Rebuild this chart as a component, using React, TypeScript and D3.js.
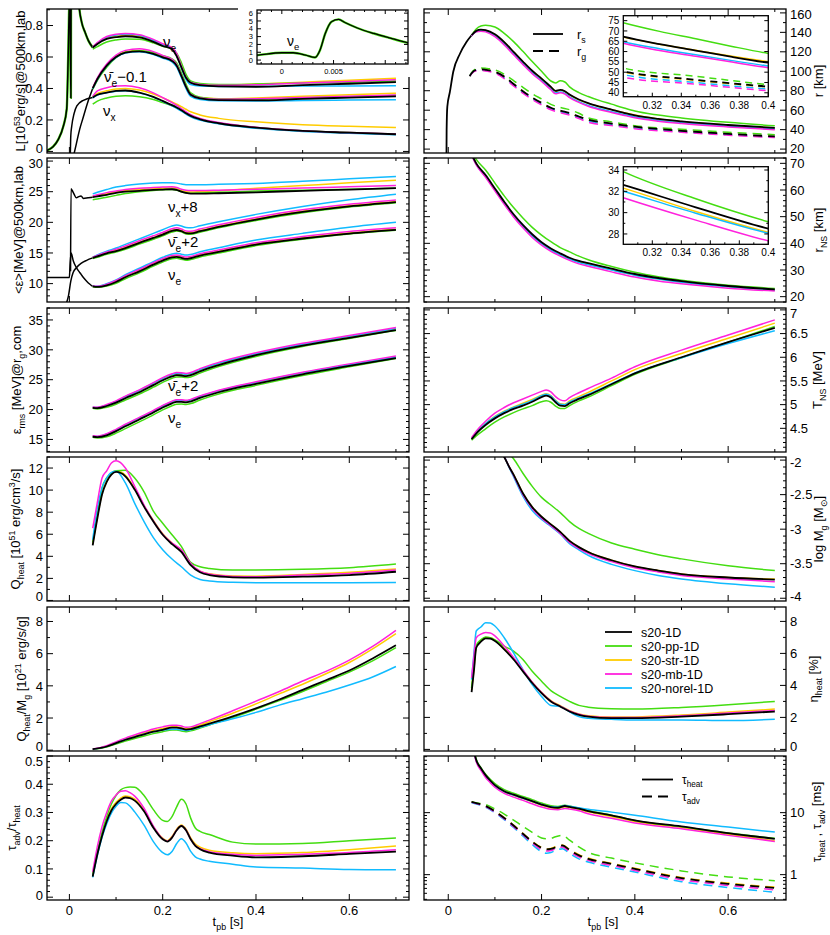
import React from 'react';
import * as d3 from 'd3';

const FONT = "'Liberation Sans', Arial, Helvetica, sans-serif";
const MODEL_NAMES = ['s20-1D', 's20-pp-1D', 's20-str-1D', 's20-mb-1D', 's20-norel-1D'];
const MODEL_COLORS = ['#000000', '#44dd11', '#ffcc00', '#ff22dd', '#11bbff'];
const DRAW_ORDER = [2, 1, 4, 3, 0];

// ---------- Row 1 left: luminosity [1e53 erg/s] at 500 km ----------
const tLum = [0.05, 0.06, 0.08, 0.10, 0.12, 0.15, 0.18, 0.20, 0.22, 0.23, 0.24, 0.25, 0.26, 0.28, 0.32, 0.40, 0.50, 0.60, 0.70];
// order: 1D, pp, str, mb, norel
const lumNue = [
  [0.660, 0.683, 0.715, 0.726, 0.732, 0.724, 0.696, 0.670, 0.650, 0.605, 0.535, 0.468, 0.436, 0.421, 0.413, 0.411, 0.421, 0.430, 0.440],
  [0.650, 0.666, 0.695, 0.708, 0.714, 0.712, 0.690, 0.668, 0.652, 0.625, 0.565, 0.490, 0.448, 0.432, 0.425, 0.428, 0.435, 0.440, 0.447],
  [0.662, 0.688, 0.722, 0.734, 0.740, 0.732, 0.703, 0.676, 0.654, 0.618, 0.540, 0.470, 0.437, 0.425, 0.420, 0.428, 0.440, 0.452, 0.465],
  [0.665, 0.692, 0.730, 0.744, 0.750, 0.742, 0.712, 0.684, 0.660, 0.622, 0.543, 0.470, 0.438, 0.426, 0.420, 0.424, 0.435, 0.445, 0.455],
  [0.662, 0.688, 0.726, 0.740, 0.746, 0.738, 0.706, 0.678, 0.654, 0.612, 0.530, 0.458, 0.425, 0.415, 0.412, 0.413, 0.415, 0.416, 0.417],
];
const lumNub = [
  [0.400, 0.460, 0.545, 0.600, 0.628, 0.636, 0.620, 0.598, 0.575, 0.545, 0.480, 0.410, 0.360, 0.337, 0.326, 0.324, 0.334, 0.342, 0.350],
  [0.395, 0.452, 0.535, 0.595, 0.630, 0.640, 0.628, 0.608, 0.588, 0.562, 0.500, 0.428, 0.372, 0.345, 0.333, 0.332, 0.340, 0.348, 0.356],
  [0.402, 0.463, 0.548, 0.605, 0.633, 0.642, 0.626, 0.604, 0.580, 0.548, 0.482, 0.410, 0.362, 0.342, 0.335, 0.340, 0.350, 0.360, 0.370],
  [0.405, 0.468, 0.555, 0.612, 0.642, 0.652, 0.634, 0.610, 0.585, 0.552, 0.484, 0.412, 0.362, 0.340, 0.332, 0.335, 0.343, 0.350, 0.358],
  [0.398, 0.458, 0.542, 0.598, 0.626, 0.634, 0.616, 0.593, 0.568, 0.536, 0.470, 0.400, 0.350, 0.330, 0.322, 0.321, 0.324, 0.326, 0.328],
];
const lumNux = [
  [0.343, 0.360, 0.374, 0.385, 0.387, 0.374, 0.347, 0.321, 0.294, 0.279, 0.262, 0.243, 0.226, 0.204, 0.179, 0.151, 0.130, 0.119, 0.109],
  [0.300, 0.320, 0.340, 0.350, 0.353, 0.348, 0.330, 0.310, 0.290, 0.277, 0.262, 0.245, 0.228, 0.206, 0.180, 0.152, 0.131, 0.120, 0.110],
  [0.345, 0.368, 0.385, 0.397, 0.400, 0.390, 0.365, 0.340, 0.315, 0.300, 0.285, 0.268, 0.252, 0.232, 0.210, 0.188, 0.170, 0.160, 0.152],
  [0.350, 0.385, 0.405, 0.415, 0.417, 0.404, 0.372, 0.342, 0.310, 0.292, 0.272, 0.252, 0.233, 0.210, 0.184, 0.154, 0.132, 0.120, 0.110],
  [0.340, 0.358, 0.372, 0.383, 0.385, 0.372, 0.345, 0.318, 0.290, 0.274, 0.256, 0.237, 0.220, 0.199, 0.175, 0.147, 0.127, 0.116, 0.106],
];
const tEarlyLumNue = [-0.0486, -0.035, -0.024, -0.013, -0.0057, -0.0023, 0, 0.0011, 0.0023, 0.0032, 0.0037, 0.0042, 0.0048, 0.0055, 0.0061, 0.0073, 0.0089, 0.0105, 0.0122, 0.016, 0.02, 0.0264, 0.0336, 0.0407, 0.05];
const earlyLumNue = [0.005, 0.03, 0.075, 0.16, 0.27, 0.64, 0.94, 0.94, 0.64, 0.34, 1.3, 3.4, 4.9, 5.2, 4.8, 4.1, 3.4, 2.8, 2.2, 1.4, 0.95, 0.82, 0.757, 0.704, 0.66];
const tEarlyLumNub = [0.0096, 0.015, 0.022, 0.03, 0.038, 0.045, 0.05];
const earlyLumNub = [-0.02, 0.05, 0.14, 0.22, 0.30, 0.36, 0.40];
const tEarlyLumNux = [0.002, 0.003, 0.005, 0.01, 0.016, 0.03, 0.05];
const earlyLumNux = [-0.02, 0.10, 0.16, 0.24, 0.29, 0.325, 0.343];

// ---------- Row 2 left: mean energies ----------
const tEn = tLum;
const enNux = [
  [24.1, 24.25, 24.5, 24.8, 25.0, 25.15, 25.3, 25.35, 25.4, 25.3, 25.0, 24.8, 24.7, 24.7, 24.75, 24.9, 25.15, 25.35, 25.6],
  [23.7, 23.8, 24.1, 24.4, 24.7, 25.0, 25.2, 25.3, 25.35, 25.25, 25.0, 24.8, 24.75, 24.8, 24.9, 25.1, 25.25, 25.4, 25.55],
  [24.2, 24.4, 24.7, 25.0, 25.2, 25.35, 25.5, 25.55, 25.6, 25.5, 25.2, 25.0, 24.95, 25.0, 25.15, 25.55, 26.0, 26.45, 26.85],
  [24.3, 24.5, 24.85, 25.1, 25.35, 25.55, 25.7, 25.75, 25.8, 25.7, 25.4, 25.25, 25.2, 25.2, 25.25, 25.4, 25.6, 25.8, 26.0],
  [24.65, 24.9, 25.35, 25.75, 26.0, 26.25, 26.4, 26.45, 26.45, 26.4, 26.25, 26.15, 26.15, 26.15, 26.2, 26.35, 26.7, 27.1, 27.5],
];
const enNub = [
  [14.2, 14.45, 14.95, 15.3, 15.8, 16.65, 17.45, 18.0, 18.6, 18.75, 18.55, 18.25, 18.2, 18.55, 19.25, 20.45, 21.7, 22.6, 23.3],
  [14.1, 14.3, 14.8, 15.15, 15.6, 16.45, 17.25, 17.8, 18.4, 18.6, 18.45, 18.1, 18.05, 18.4, 19.1, 20.3, 21.55, 22.5, 23.2],
  [14.25, 14.5, 15.0, 15.4, 15.9, 16.75, 17.55, 18.1, 18.7, 18.85, 18.65, 18.35, 18.3, 18.65, 19.35, 20.55, 21.8, 22.7, 23.4],
  [14.3, 14.6, 15.15, 15.6, 16.15, 17.0, 17.8, 18.35, 18.95, 19.1, 18.9, 18.6, 18.55, 18.9, 19.6, 20.8, 22.05, 22.95, 23.65],
  [14.3, 14.7, 15.3, 15.8, 16.4, 17.3, 18.2, 18.8, 19.4, 19.55, 19.4, 19.15, 19.1, 19.45, 20.1, 21.3, 22.6, 23.7, 24.6],
];
const enNue = [
  [9.56, 9.46, 9.73, 10.27, 11.04, 12.0, 13.1, 13.76, 14.3, 14.36, 14.2, 14.03, 14.14, 14.58, 15.18, 16.38, 17.36, 18.17, 18.77],
  [9.5, 9.4, 9.6, 10.05, 10.8, 11.75, 12.85, 13.5, 14.05, 14.12, 13.98, 13.82, 13.92, 14.35, 14.98, 16.2, 17.25, 18.1, 18.7],
  [9.58, 9.5, 9.8, 10.35, 11.12, 12.1, 13.2, 13.85, 14.4, 14.45, 14.3, 14.12, 14.22, 14.66, 15.26, 16.46, 17.45, 18.27, 18.87],
  [9.62, 9.56, 9.9, 10.5, 11.3, 12.3, 13.4, 14.05, 14.6, 14.66, 14.5, 14.33, 14.43, 14.87, 15.47, 16.67, 17.67, 18.5, 19.1],
  [9.62, 9.58, 9.98, 10.6, 11.45, 12.5, 13.6, 14.3, 14.85, 14.95, 14.8, 14.65, 14.75, 15.2, 15.85, 17.1, 18.2, 19.2, 20.0],
];
const tEarlyEnNue = [-0.048, 0, 0.0015, 0.0036, 0.0086, 0.015, 0.023, 0.03, 0.037, 0.044, 0.05];
const earlyEnNue = [11.0, 11.0, 13.2, 15.0, 13.65, 12.6, 11.74, 11.0, 10.4, 9.9, 9.56];
const tEarlyEnNub = [-0.006, -0.002, 0.003, 0.008, 0.015, 0.025, 0.037, 0.05];
const earlyEnNub = [6.9, 8.0, 10.4, 11.8, 12.6, 13.3, 13.8, 14.2];
const tEarlyEnNux = [0.0025, 0.0035, 0.006, 0.01, 0.015, 0.02, 0.025, 0.03, 0.04, 0.05];
const earlyEnNux = [12.0, 25.5, 25.2, 24.6, 24.0, 24.2, 24.3, 23.9, 24.0, 24.1];

// ---------- Row 3 left: rms energies ----------
const tRms = tLum;
const rmsNub = [
  [20.3, 20.25, 20.6, 21.15, 21.9, 22.9, 24.1, 24.9, 25.55, 25.75, 25.7, 25.6, 25.75, 26.4, 27.45, 29.1, 30.7, 32.0, 33.3],
  [20.2, 20.1, 20.4, 20.9, 21.6, 22.6, 23.75, 24.55, 25.25, 25.45, 25.45, 25.35, 25.45, 26.1, 27.2, 28.9, 30.55, 31.9, 33.25],
  [20.35, 20.3, 20.7, 21.3, 22.05, 23.05, 24.25, 25.05, 25.7, 25.9, 25.85, 25.75, 25.9, 26.55, 27.6, 29.25, 30.85, 32.15, 33.5],
  [20.45, 20.4, 20.85, 21.45, 22.25, 23.3, 24.5, 25.35, 26.0, 26.2, 26.15, 26.05, 26.2, 26.85, 27.9, 29.5, 31.1, 32.4, 33.75],
  [20.4, 20.35, 20.75, 21.35, 22.15, 23.2, 24.4, 25.2, 25.85, 26.05, 26.0, 25.9, 26.05, 26.7, 27.75, 29.35, 30.95, 32.25, 33.55],
];
const rmsNue = [
  [15.45, 15.4, 15.7, 16.4, 17.2, 18.35, 19.5, 20.35, 21.05, 21.3, 21.3, 21.2, 21.35, 21.95, 22.9, 24.3, 25.9, 27.3, 28.6],
  [15.35, 15.25, 15.45, 16.05, 16.8, 17.95, 19.1, 19.95, 20.65, 20.9, 20.92, 20.85, 21.0, 21.6, 22.6, 24.05, 25.7, 27.15, 28.55],
  [15.5, 15.45, 15.8, 16.5, 17.3, 18.45, 19.6, 20.45, 21.15, 21.4, 21.4, 21.3, 21.45, 22.05, 23.0, 24.4, 26.0, 27.4, 28.7],
  [15.6, 15.55, 15.95, 16.7, 17.55, 18.7, 19.85, 20.7, 21.4, 21.65, 21.65, 21.55, 21.7, 22.3, 23.25, 24.65, 26.25, 27.65, 28.95],
  [15.55, 15.5, 15.9, 16.6, 17.45, 18.6, 19.75, 20.6, 21.3, 21.55, 21.55, 21.45, 21.6, 22.2, 23.15, 24.55, 26.15, 27.5, 28.8],
];

// ---------- Row 4 left: Q_heat ----------
const tQ = [0.05, 0.06, 0.07, 0.08, 0.09, 0.10, 0.12, 0.14, 0.16, 0.18, 0.20, 0.22, 0.24, 0.26, 0.28, 0.30, 0.35, 0.40, 0.50, 0.60, 0.70];
const qHeat = [
  [5.0, 7.45, 9.6, 10.75, 11.4, 11.65, 11.25, 10.05, 8.5, 7.15, 5.95, 5.1, 4.4, 3.2, 2.55, 2.3, 2.1, 2.06, 2.15, 2.3, 2.6],
  [5.27, 7.75, 10.2, 11.1, 11.55, 11.76, 11.8, 11.1, 9.85, 8.1, 7.0, 5.95, 4.9, 3.45, 3.05, 2.9, 2.76, 2.76, 2.82, 2.97, 3.3],
  [5.1, 7.6, 9.7, 10.85, 11.5, 11.75, 11.35, 10.15, 8.6, 7.25, 6.05, 5.2, 4.5, 3.28, 2.65, 2.42, 2.22, 2.2, 2.35, 2.55, 2.85],
  [6.55, 8.9, 11.1, 11.75, 12.45, 12.65, 12.0, 10.35, 8.65, 7.2, 6.0, 5.2, 4.6, 3.35, 2.65, 2.4, 2.18, 2.15, 2.3, 2.45, 2.75],
  [5.5, 8.4, 10.2, 11.1, 11.6, 11.7, 10.65, 8.8, 7.15, 5.7, 4.6, 3.75, 3.05, 2.3, 1.9, 1.76, 1.64, 1.6, 1.6, 1.6, 1.62],
];

// ---------- Row 5 left: Q_heat / M_g ----------
const tQM = [0.05, 0.08, 0.10, 0.12, 0.15, 0.18, 0.20, 0.22, 0.23, 0.24, 0.25, 0.26, 0.28, 0.30, 0.35, 0.40, 0.45, 0.50, 0.55, 0.60, 0.65, 0.70];
const qPerMass = [
  [0.06, 0.23, 0.44, 0.65, 0.9, 1.15, 1.27, 1.4, 1.4, 1.35, 1.28, 1.31, 1.48, 1.65, 2.1, 2.6, 3.15, 3.75, 4.35, 4.95, 5.7, 6.52],
  [0.05, 0.2, 0.38, 0.57, 0.8, 1.03, 1.15, 1.25, 1.25, 1.2, 1.15, 1.2, 1.38, 1.57, 2.03, 2.55, 3.08, 3.65, 4.25, 4.85, 5.55, 6.37],
  [0.06, 0.25, 0.47, 0.7, 0.97, 1.22, 1.35, 1.45, 1.45, 1.4, 1.33, 1.37, 1.56, 1.77, 2.3, 2.88, 3.5, 4.1, 4.75, 5.45, 6.3, 7.25],
  [0.07, 0.28, 0.52, 0.75, 1.05, 1.32, 1.45, 1.55, 1.55, 1.5, 1.42, 1.45, 1.65, 1.87, 2.45, 3.05, 3.65, 4.3, 4.9, 5.6, 6.45, 7.45],
  [0.06, 0.24, 0.45, 0.66, 0.92, 1.15, 1.25, 1.3, 1.3, 1.27, 1.22, 1.27, 1.42, 1.58, 1.95, 2.35, 2.8, 3.2, 3.6, 4.05, 4.55, 5.2],
];

// ---------- Row 6 left: tau_adv / tau_heat ----------
const tRatio = [0.05, 0.06, 0.07, 0.08, 0.09, 0.10, 0.11, 0.12, 0.13, 0.14, 0.16, 0.18, 0.20, 0.21, 0.22, 0.23, 0.24, 0.25, 0.26, 0.27, 0.28, 0.30, 0.35, 0.40, 0.50, 0.60, 0.70];
const tauRatio = [
  [0.073, 0.152, 0.217, 0.269, 0.307, 0.330, 0.345, 0.353, 0.351, 0.342, 0.304, 0.246, 0.205, 0.197, 0.211, 0.237, 0.252, 0.237, 0.205, 0.182, 0.170, 0.158, 0.147, 0.141, 0.145, 0.153, 0.161],
  [0.075, 0.16, 0.23, 0.285, 0.33, 0.36, 0.38, 0.388, 0.39, 0.389, 0.36, 0.31, 0.272, 0.268, 0.285, 0.32, 0.347, 0.33, 0.28, 0.245, 0.233, 0.222, 0.195, 0.188, 0.19, 0.2, 0.21],
  [0.078, 0.157, 0.222, 0.275, 0.313, 0.336, 0.351, 0.358, 0.356, 0.347, 0.308, 0.25, 0.209, 0.2, 0.215, 0.241, 0.256, 0.241, 0.21, 0.188, 0.177, 0.166, 0.157, 0.154, 0.158, 0.168, 0.181],
  [0.09, 0.18, 0.25, 0.3, 0.34, 0.362, 0.375, 0.377, 0.37, 0.358, 0.315, 0.252, 0.207, 0.198, 0.212, 0.238, 0.253, 0.238, 0.206, 0.183, 0.172, 0.161, 0.152, 0.148, 0.152, 0.158, 0.168],
  [0.07, 0.148, 0.212, 0.26, 0.298, 0.322, 0.335, 0.334, 0.322, 0.302, 0.255, 0.197, 0.158, 0.15, 0.162, 0.19, 0.207, 0.192, 0.162, 0.143, 0.135, 0.127, 0.117, 0.107, 0.103, 0.098, 0.097],
];

// ---------- Row 1 right: shock radius r_s and gain radius r_g [km] ----------
const tRs = [0.05, 0.06, 0.07, 0.08, 0.10, 0.12, 0.14, 0.16, 0.18, 0.20, 0.22, 0.23, 0.24, 0.25, 0.26, 0.28, 0.30, 0.325, 0.35, 0.375, 0.40, 0.45, 0.50, 0.60, 0.70];
const rShock = [
  [137, 141.5, 142.8, 142.3, 138, 130, 120, 110, 100.5, 92.5, 84, 79.8, 80.8, 79.5, 76, 71, 67.2, 63.6, 60.5, 57.4, 54.6, 51, 48.5, 44.8, 41.8],
  [137, 143.5, 146.5, 147.3, 145.5, 139, 130.5, 120.5, 110, 100, 90, 88, 90.3, 89, 84, 78, 74, 69.8, 66.2, 62.5, 59.1, 55, 52, 47.5, 44],
  [137, 141.3, 142.5, 142, 137.7, 129.7, 119.7, 109.7, 100.2, 92.2, 83.7, 79.5, 80.5, 79.2, 75.7, 70.7, 67.0, 63.6, 60.6, 57.7, 55.1, 51, 48.3, 44.6, 41.6],
  [136.5, 140.5, 141.2, 140.5, 135.5, 127, 117, 107, 97.5, 89.5, 81, 76.8, 77.8, 76.5, 73, 68, 64, 60.5, 57.7, 54.9, 52.2, 48.7, 46.3, 42.8, 40],
  [136.5, 140.8, 141.6, 141, 136.5, 128, 118, 108, 98.5, 90.5, 82, 77.6, 78.6, 77.3, 73.8, 68.7, 64.8, 61.4, 58.4, 55.6, 53, 49.4, 47, 43.5, 40.6],
];
const tEarlyRs = [-0.0038, -0.0035, -0.002, 0.0036, 0.0107, 0.025, 0.039, 0.05];
const earlyRs = [15, 40, 63.7, 79, 99.5, 118, 130, 137];
const tRg = [0.046, 0.05, 0.06, 0.07, 0.08, 0.10, 0.12, 0.14, 0.16, 0.18, 0.20, 0.22, 0.24, 0.26, 0.28, 0.30, 0.35, 0.40, 0.50, 0.60, 0.70];
const rGain = [
  [95, 98, 101.5, 102, 101.5, 99.5, 94.5, 87, 79.5, 73, 67.5, 62.5, 59.5, 57, 53.5, 50.3, 46.3, 43, 38.8, 35.7, 33],
  [95, 98.5, 102.5, 103.3, 103, 101.5, 97, 90.5, 83.5, 77, 71.5, 66, 62.8, 60.5, 56.8, 52, 48, 44, 40.5, 37.3, 34.8],
  [95, 98, 101.5, 102, 101.5, 99.5, 94.3, 86.8, 79.3, 72.8, 67.3, 62.3, 59.3, 56.8, 53.2, 50.0, 46.0, 42.8, 38.6, 35.5, 32.8],
  [95, 97.5, 100.5, 100.8, 100.3, 98, 92.5, 85, 77.5, 71, 65.5, 60.5, 57.5, 55, 51.5, 47.5, 44.2, 41, 37.3, 34.3, 31.8],
  [95, 97.8, 101, 101.3, 100.8, 98.8, 93.5, 86, 78.3, 72, 66.5, 61.5, 58.5, 56, 52.3, 48.8, 45, 41.8, 38, 35, 32.3],
];

// ---------- Row 2 right: neutron star radius [km] ----------
const tNS = [0.05, 0.06, 0.08, 0.10, 0.12, 0.14, 0.16, 0.18, 0.20, 0.22, 0.24, 0.26, 0.28, 0.30, 0.35, 0.40, 0.45, 0.50, 0.60, 0.70];
const rNS = [
  [73.5, 70.0, 65.6, 60.6, 55.6, 50.9, 46.9, 43.4, 40.4, 38.1, 36.25, 34.6, 33.4, 32.6, 30.5, 28.5, 27.0, 25.8, 24.0, 22.75],
  [74.5, 71.5, 67.5, 62.6, 57.8, 53.4, 49.5, 46.0, 43.1, 40.6, 38.4, 36.8, 35.2, 33.85, 31.3, 29.15, 27.5, 26.2, 24.3, 23.1],
  [73.3, 69.8, 65.3, 60.3, 55.3, 50.6, 46.6, 43.1, 40.1, 37.8, 35.95, 34.3, 33.1, 32.3, 30.1, 28.15, 26.7, 25.5, 23.8, 22.6],
  [73.0, 69.4, 64.8, 59.7, 54.6, 49.9, 45.8, 42.2, 39.3, 37.0, 35.2, 33.6, 32.3, 31.4, 29.3, 27.35, 25.9, 24.8, 23.2, 22.1],
  [73.2, 69.6, 65.1, 60.1, 55.0, 50.3, 46.3, 42.8, 39.8, 37.5, 35.7, 34.1, 32.8, 32.0, 29.95, 28.06, 26.6, 25.4, 23.7, 22.5],
];

// ---------- Row 3 right: neutron star temperature [MeV] ----------
const tT = [0.05, 0.06, 0.08, 0.10, 0.12, 0.14, 0.16, 0.18, 0.20, 0.21, 0.22, 0.23, 0.24, 0.25, 0.26, 0.28, 0.30, 0.35, 0.40, 0.50, 0.60, 0.70];
const tempNS = [
  [4.27, 4.39, 4.57, 4.71, 4.82, 4.91, 4.98, 5.06, 5.16, 5.19, 5.15, 5.05, 4.98, 4.97, 5.03, 5.12, 5.2, 5.43, 5.66, 6.0, 6.32, 6.62],
  [4.25, 4.34, 4.49, 4.63, 4.74, 4.83, 4.91, 4.98, 5.06, 5.08, 5.05, 4.97, 4.92, 4.92, 4.98, 5.08, 5.16, 5.4, 5.64, 5.99, 6.32, 6.65],
  [4.28, 4.41, 4.6, 4.75, 4.86, 4.95, 5.03, 5.11, 5.2, 5.23, 5.19, 5.09, 5.02, 5.01, 5.08, 5.17, 5.26, 5.5, 5.74, 6.08, 6.4, 6.72],
  [4.3, 4.44, 4.65, 4.82, 4.94, 5.04, 5.12, 5.2, 5.28, 5.31, 5.27, 5.17, 5.1, 5.08, 5.15, 5.25, 5.34, 5.56, 5.8, 6.15, 6.47, 6.79],
  [4.28, 4.41, 4.6, 4.74, 4.85, 4.94, 5.01, 5.09, 5.19, 5.22, 5.18, 5.08, 5.01, 5.0, 5.06, 5.14, 5.22, 5.44, 5.67, 5.99, 6.29, 6.56],
];

// ---------- Row 4 right: log gain-layer mass ----------
const tGain = [0.11, 0.12, 0.13, 0.14, 0.16, 0.18, 0.20, 0.22, 0.24, 0.26, 0.28, 0.30, 0.35, 0.40, 0.45, 0.50, 0.60, 0.70];
const logMg = [
  [-1.85, -1.956, -2.09, -2.21, -2.48, -2.68, -2.82, -2.93, -3.04, -3.17, -3.26, -3.33, -3.45, -3.54, -3.6, -3.65, -3.7, -3.73],
  [-1.7, -1.8, -1.9, -1.98, -2.19, -2.38, -2.54, -2.65, -2.76, -2.89, -2.99, -3.06, -3.2, -3.29, -3.37, -3.43, -3.53, -3.6],
  [-1.85, -1.955, -2.09, -2.21, -2.48, -2.68, -2.82, -2.93, -3.04, -3.17, -3.26, -3.33, -3.45, -3.54, -3.6, -3.65, -3.7, -3.72],
  [-1.84, -1.95, -2.09, -2.22, -2.5, -2.7, -2.84, -2.95, -3.06, -3.19, -3.28, -3.35, -3.47, -3.56, -3.62, -3.67, -3.72, -3.76],
  [-1.83, -1.945, -2.1, -2.24, -2.52, -2.73, -2.86, -2.96, -3.07, -3.21, -3.3, -3.38, -3.51, -3.6, -3.67, -3.72, -3.79, -3.84],
];

// ---------- Row 5 right: heating efficiency [%] ----------
const tEff = [0.05, 0.055, 0.06, 0.07, 0.08, 0.09, 0.10, 0.12, 0.14, 0.16, 0.18, 0.20, 0.22, 0.24, 0.26, 0.28, 0.30, 0.35, 0.40, 0.50, 0.60, 0.70];
const etaHeat = [
  [3.58, 4.9, 6.35, 6.73, 6.94, 6.92, 6.77, 6.25, 5.62, 4.88, 4.15, 3.52, 3.0, 2.68, 2.37, 2.16, 2.05, 1.95, 1.95, 2.05, 2.2, 2.37],
  [3.84, 5.3, 6.5, 6.85, 7.03, 6.98, 6.85, 6.46, 6.14, 5.62, 4.88, 4.26, 3.67, 3.31, 3.0, 2.75, 2.64, 2.54, 2.52, 2.62, 2.79, 3.0],
  [3.7, 5.0, 6.45, 6.8, 7.0, 6.98, 6.83, 6.3, 5.67, 4.93, 4.2, 3.57, 3.05, 2.73, 2.42, 2.21, 2.1, 2.02, 2.03, 2.15, 2.33, 2.52],
  [4.47, 5.8, 6.98, 7.2, 7.3, 7.28, 7.09, 6.46, 5.75, 4.97, 4.2, 3.55, 3.02, 2.7, 2.4, 2.2, 2.08, 1.99, 1.99, 2.1, 2.27, 2.43],
  [4.36, 6.0, 7.4, 7.65, 7.92, 7.9, 7.71, 6.98, 6.04, 4.99, 4.05, 3.31, 2.75, 2.68, 2.35, 2.05, 1.95, 1.88, 1.84, 1.84, 1.8, 1.89],
];

// ---------- Row 6 right: timescales [ms] ----------
const tHeatT = [0.057, 0.06, 0.07, 0.08, 0.09, 0.10, 0.12, 0.14, 0.16, 0.18, 0.20, 0.22, 0.235, 0.25, 0.26, 0.28, 0.30, 0.35, 0.40, 0.50, 0.60, 0.70];
const tauHeat = [
  [85, 70.7, 52, 40.3, 33, 27.8, 22.2, 19.5, 17.3, 15.3, 13.5, 12.3, 12.0, 12.8, 12.4, 11.6, 10.6, 9.06, 7.5, 6.0, 4.68, 3.79],
  [88, 73, 53, 41.5, 34.5, 29.5, 23.5, 20.5, 18.2, 16.2, 14.3, 12.9, 12.6, 13.2, 12.8, 11.8, 10.8, 9.1, 7.5, 5.95, 4.7, 3.85],
  [84, 69.5, 51, 39.7, 32.5, 27.3, 21.8, 19.1, 17.0, 15.0, 13.2, 12.0, 11.7, 12.5, 12.1, 11.3, 10.3, 8.7, 7.2, 5.75, 4.5, 3.5],
  [80, 66, 48, 37, 30.5, 25.7, 20.5, 17.8, 15.8, 13.9, 12.3, 11.3, 11.1, 11.7, 11.4, 10.7, 9.6, 8.1, 6.8, 5.5, 4.3, 3.43],
  [82, 68.5, 50, 39, 32, 27, 21.8, 19.2, 17.1, 15.2, 13.5, 12.4, 12.2, 13.0, 12.7, 12.0, 11.3, 10.2, 9.06, 7.07, 5.85, 4.86],
];
const tAdvT = [0.05, 0.06, 0.07, 0.08, 0.10, 0.12, 0.14, 0.16, 0.18, 0.20, 0.21, 0.22, 0.23, 0.245, 0.26, 0.28, 0.30, 0.35, 0.40, 0.50, 0.60, 0.70];
const tauAdv = [
  [14.9, 14.2, 13.6, 12.8, 10.5, 8.2, 6.2, 4.56, 3.4, 2.7, 2.55, 2.6, 2.75, 2.95, 2.5, 2.05, 1.8, 1.49, 1.24, 0.88, 0.71, 0.61],
  [15.0, 14.4, 14.0, 13.5, 11.5, 9.5, 7.6, 6.0, 4.8, 3.9, 3.78, 3.85, 4.1, 4.3, 3.6, 2.8, 2.3, 1.85, 1.55, 1.15, 0.92, 0.8],
  [14.9, 14.2, 13.6, 12.9, 10.6, 8.3, 6.3, 4.65, 3.45, 2.75, 2.6, 2.65, 2.82, 3.0, 2.55, 2.1, 1.85, 1.52, 1.27, 0.9, 0.73, 0.63],
  [14.7, 14.0, 13.3, 12.5, 10.2, 7.9, 5.95, 4.4, 3.25, 2.52, 2.4, 2.45, 2.62, 2.8, 2.35, 1.93, 1.7, 1.41, 1.17, 0.83, 0.67, 0.57],
  [14.5, 13.8, 13.1, 12.3, 10.0, 7.7, 5.75, 4.2, 3.05, 2.35, 2.22, 2.28, 2.45, 2.62, 2.2, 1.8, 1.6, 1.32, 1.1, 0.77, 0.62, 0.52],
];

// ---------- layout ----------
const PW = 362, PH = 144, LX = 47, RX = 424;
const TOPS = [9, 158, 308, 457, 607, 756];
const seq = (a: number, b: number, s: number) => d3.range(a, b + s * 0.5, s).map(v => +v.toFixed(6));

type Part = [string, string?];
function Rich({ parts, fs }: { parts: Part[]; fs: number }) {
  let cur = 0;
  return (
    <>
      {parts.map(([s, k], i) => {
        const target = k === 'b' ? fs * 0.32 : k === 'p' ? -fs * 0.42 : 0;
        const dy = target - cur;
        cur = target;
        return (
          <tspan key={i} dy={dy} fontSize={k ? fs * 0.68 : fs}>
            {s}
          </tspan>
        );
      })}
    </>
  );
}
function Label({ x, y, fs, parts, rot, anchor }: { x: number; y: number; fs: number; parts: Part[]; rot?: boolean; anchor?: string }) {
  return (
    <text
      x={rot ? 0 : x}
      y={rot ? 0 : y}
      transform={rot ? `translate(${x},${y}) rotate(-90)` : undefined}
      fontSize={fs}
      fontFamily={FONT}
      textAnchor={anchor || 'start'}
      fill="#000"
    >
      <Rich parts={parts} fs={fs} />
    </text>
  );
}

function Curve({ x, y, ts, vs, color, dash, lw }: any) {
  const gen = d3
    .line<number>()
    .x((_, i) => x(ts[i]))
    .y(v => y(v))
    .curve(d3.curveMonotoneX);
  return <path d={gen(vs) || ''} fill="none" stroke={color} strokeWidth={lw} strokeDasharray={dash} strokeLinejoin="round" />;
}
function Models({ x, y, ts, data, dash }: any) {
  return (
    <g>
      {DRAW_ORDER.map(i => (
        <Curve key={i} x={x} y={y} ts={ts} vs={data[i]} color={MODEL_COLORS[i]} dash={dash} lw={i === 0 ? 1.8 : 1.5} />
      ))}
    </g>
  );
}

function Axes(p: {
  x: any; y: any; xMaj: number[]; xMin: number[]; xLab?: number[];
  yMaj: number[]; yMin: number[]; yLab: number[]; side: 'left' | 'right'; fs: number; tl?: number; ml?: number; pad?: number;
}) {
  const tl = p.tl ?? 6, ml = p.ml ?? 3, pad = p.pad ?? 5;
  const [x1, x2] = p.x.range();
  const [y2, y1] = p.y.range();
  const segs: number[][] = [];
  p.xMaj.forEach(v => { const q = p.x(v); segs.push([q, y2, q, y2 - tl], [q, y1, q, y1 + tl]); });
  p.xMin.forEach(v => { const q = p.x(v); segs.push([q, y2, q, y2 - ml], [q, y1, q, y1 + ml]); });
  p.yMaj.forEach(v => { const q = p.y(v); segs.push([x1, q, x1 + tl, q], [x2, q, x2 - tl, q]); });
  p.yMin.forEach(v => { const q = p.y(v); segs.push([x1, q, x1 + ml, q], [x2, q, x2 - ml, q]); });
  return (
    <g>
      <g stroke="#000" strokeWidth={1}>
        {segs.map((s, i) => <line key={i} x1={s[0]} y1={s[1]} x2={s[2]} y2={s[3]} />)}
      </g>
      <rect x={x1} y={y1} width={x2 - x1} height={y2 - y1} fill="none" stroke="#000" strokeWidth={1.3} />
      <g fontSize={p.fs} fontFamily={FONT} fill="#000">
        {p.yLab.map(v => (
          <text
            key={'y' + v}
            x={p.side === 'left' ? x1 - 4 : x2 + 4}
            y={Math.min(Math.max(p.y(v), y1 + pad + 0.5), y2 - pad)}
            dy="0.36em"
            textAnchor={p.side === 'left' ? 'end' : 'start'}
          >
            {String(v)}
          </text>
        ))}
        {(p.xLab || []).map(v => (
          <text key={'x' + v} x={p.x(v)} y={y2 + p.fs + 2} textAnchor="middle">
            {String(v)}
          </text>
        ))}
      </g>
    </g>
  );
}

export default function App() {
  const xL = d3.scaleLinear().domain([-0.048, 0.728]).range([LX, LX + PW]);
  const xR = d3.scaleLinear().domain([-0.052, 0.724]).range([RX, RX + PW]);
  const yRow = (r: number, dom: [number, number]) => d3.scaleLinear().domain(dom).range([TOPS[r] + PH, TOPS[r]]);
  const xMaj = [0, 0.2, 0.4, 0.6];
  const xMin = [0.1, 0.3, 0.5, 0.7];

  const y1L = yRow(0, [-0.01, 0.905]);
  const y1R = yRow(0, [16, 164]);
  const y2L = yRow(1, [7, 30.5]);
  const y2R = yRow(1, [18, 72]);
  const y3L = yRow(2, [12.9, 37]);
  const y3R = yRow(2, [4.0, 7.04]);
  const y4L = yRow(3, [-0.05, 13]);
  const y4R = yRow(3, [-4.04, -1.955]);
  const y5L = yRow(4, [-0.05, 8.9]);
  const y5R = yRow(4, [-0.1, 8.9]);
  const y6L = yRow(5, [-0.01, 0.5]);
  const y6R = d3.scaleLog().domain([0.39, 82]).range([TOPS[5] + PH, TOPS[5]]);

  // insets
  const xiA = d3.scaleLinear().domain([-0.0024, 0.0122]).range([257, 408]);
  const yiA = d3.scaleLinear().domain([-0.5, 6.4]).range([64, 10]);
  const xiB = d3.scaleLinear().domain([0.3, 0.4]).range([623.3, 768.3]);
  const yiB = d3.scaleLinear().domain([38.1, 77.4]).range([96.7, 15.7]);
  const xiC = d3.scaleLinear().domain([0.3, 0.4]).range([623.3, 768.3]);
  const yiC = d3.scaleLinear().domain([27.03, 34.31]).range([244.3, 166.7]);

  const nu = '\u03bd';
  const nub = '\u03bd\u0304';

  const clipRect = (id: string, x0: number, r: number) => (
    <clipPath id={id} key={id}>
      <rect x={x0} y={TOPS[r]} width={PW} height={PH} />
    </clipPath>
  );

  return (
    <svg width={830} height={935} style={{ position: 'absolute', left: 0, top: 0, background: '#fff' }} fontFamily={FONT}>
      <defs>
        {[0, 1, 2, 3, 4, 5].map(r => clipRect('cl' + r, LX, r))}
        {[0, 1, 2, 3, 4, 5].map(r => clipRect('cr' + r, RX, r))}
        <clipPath id="ciA"><rect x={257} y={10} width={151} height={54} /></clipPath>
        <clipPath id="ciB"><rect x={623.3} y={15.7} width={145} height={81} /></clipPath>
        <clipPath id="ciC"><rect x={623.3} y={166.7} width={145} height={77.6} /></clipPath>
      </defs>
      <rect x={0} y={0} width={830} height={935} fill="#fff" />

      {/* ---------- Row 1 left ---------- */}
      <g clipPath="url(#cl0)">
        <Curve x={xL} y={y1L} ts={tEarlyLumNue} vs={earlyLumNue} color={MODEL_COLORS[1]} lw={2.4} />
        <Curve x={xL} y={y1L} ts={tEarlyLumNue} vs={earlyLumNue} color="#000" lw={1.5} />
        <Curve x={xL} y={y1L} ts={tEarlyLumNub} vs={earlyLumNub} color="#000" lw={1.5} />
        <Curve x={xL} y={y1L} ts={tEarlyLumNux} vs={earlyLumNux} color="#000" lw={1.5} />
        <Models x={xL} y={y1L} ts={tLum} data={lumNux} />
        <Models x={xL} y={y1L} ts={tLum} data={lumNub} />
        <Models x={xL} y={y1L} ts={tLum} data={lumNue} />
      </g>
      <Axes x={xL} y={y1L} xMaj={xMaj} xMin={xMin} yMaj={seq(0, 0.8, 0.2)} yMin={seq(0.1, 0.9, 0.2)} yLab={seq(0, 0.8, 0.2)} side="left" fs={13} />
      <Label x={163} y={47} fs={15} parts={[[nu], ['e', 'b']]} />
      <Label x={104} y={82} fs={15} parts={[[nub], ['e', 'b'], ['\u22120.1']]} />
      <Label x={103} y={116} fs={15} parts={[[nu], ['x', 'b']]} />
      <Label x={25} y={81} fs={13} rot anchor="middle" parts={[['L[10'], ['53', 'p'], ['erg/s]@500km,lab']]} />
      {/* inset A */}
      <rect x={238} y={4} width={175} height={73} fill="#fff" />
      <g clipPath="url(#ciA)">
        <Curve x={xiA} y={yiA} ts={tEarlyLumNue} vs={earlyLumNue} color={MODEL_COLORS[1]} lw={2.4} />
        <Curve x={xiA} y={yiA} ts={tEarlyLumNue} vs={earlyLumNue} color="#000" lw={1.3} />
      </g>
      <Axes x={xiA} y={yiA} xMaj={[0, 0.005, 0.01]} xMin={[-0.002, -0.001, 0.001, 0.002, 0.003, 0.004, 0.006, 0.007, 0.008, 0.009, 0.011, 0.012]} xLab={[0, 0.005]} yMaj={seq(0, 6, 1)} yMin={[]} yLab={seq(0, 6, 1)} side="left" fs={7.5} tl={4} ml={2} pad={1} />
      <Label x={287} y={46} fs={14} parts={[[nu], ['e', 'b']]} />

      {/* ---------- Row 1 right ---------- */}
      <g clipPath="url(#cr0)">
        <Models x={xR} y={y1R} ts={tRg} data={rGain} dash="9,6" />
        <Curve x={xR} y={y1R} ts={tEarlyRs} vs={earlyRs} color="#000" lw={1.8} />
        <Models x={xR} y={y1R} ts={tRs} data={rShock} />
      </g>
      <Axes x={xR} y={y1R} xMaj={xMaj} xMin={xMin} yMaj={seq(20, 160, 20)} yMin={seq(30, 150, 20)} yLab={seq(20, 160, 20)} side="right" fs={13} />
      <Label x={823} y={81} fs={13} rot anchor="middle" parts={[['r [km]']]} />
      <line x1={533} x2={563} y1={34} y2={34} stroke="#000" strokeWidth={1.8} />
      <line x1={533} x2={563} y1={51} y2={51} stroke="#000" strokeWidth={1.8} strokeDasharray="10,6" />
      <Label x={577} y={38.5} fs={13} parts={[['r'], ['s', 'b']]} />
      <Label x={577} y={55.5} fs={13} parts={[['r'], ['g', 'b']]} />
      {/* inset B */}
      <rect x={623.3} y={15.7} width={145} height={81} fill="#fff" />
      <g clipPath="url(#ciB)">
        <Models x={xiB} y={yiB} ts={tRg} data={rGain} dash="7,5" />
        <Models x={xiB} y={yiB} ts={tRs} data={rShock} />
      </g>
      <Axes x={xiB} y={yiB} xMaj={seq(0.32, 0.4, 0.02)} xMin={seq(0.31, 0.39, 0.02)} xLab={seq(0.32, 0.4, 0.02)} yMaj={seq(40, 75, 5)} yMin={[]} yLab={seq(40, 75, 5)} side="left" fs={10} tl={4} ml={2} pad={1} />

      {/* ---------- Row 2 left ---------- */}
      <g clipPath="url(#cl1)">
        <Curve x={xL} y={y2L} ts={tEarlyEnNue} vs={earlyEnNue} color="#000" lw={1.5} />
        <Curve x={xL} y={y2L} ts={tEarlyEnNub} vs={earlyEnNub} color="#000" lw={1.5} />
        <Curve x={xL} y={y2L} ts={tEarlyEnNux} vs={earlyEnNux} color="#000" lw={1.5} />
        <Models x={xL} y={y2L} ts={tEn} data={enNux} />
        <Models x={xL} y={y2L} ts={tEn} data={enNub} />
        <Models x={xL} y={y2L} ts={tEn} data={enNue} />
      </g>
      <Axes x={xL} y={y2L} xMaj={xMaj} xMin={xMin} yMaj={seq(10, 30, 5)} yMin={seq(8, 30, 1).filter(v => v % 5 !== 0)} yLab={seq(10, 30, 5)} side="left" fs={13} />
      <Label x={168} y={212} fs={15} parts={[[nu], ['x', 'b'], ['+8']]} />
      <Label x={168} y={247} fs={15} parts={[[nub], ['e', 'b'], ['+2']]} />
      <Label x={168} y={280} fs={15} parts={[[nu], ['e', 'b']]} />
      <Label x={23} y={230} fs={13} rot anchor="middle" parts={[['<\u03b5>[MeV]@500km,lab']]} />

      {/* ---------- Row 2 right ---------- */}
      <g clipPath="url(#cr1)">
        <Models x={xR} y={y2R} ts={tNS} data={rNS} />
      </g>
      <Axes x={xR} y={y2R} xMaj={xMaj} xMin={xMin} yMaj={seq(20, 70, 10)} yMin={seq(18, 72, 2).filter(v => v % 10 !== 0)} yLab={seq(20, 70, 10)} side="right" fs={13} />
      <Label x={823} y={230} fs={13} rot anchor="middle" parts={[['r'], ['NS', 'b'], [' [km]']]} />
      <rect x={623.3} y={166.7} width={145} height={77.6} fill="#fff" />
      <g clipPath="url(#ciC)">
        <Models x={xiC} y={yiC} ts={tNS} data={rNS} />
      </g>
      <Axes x={xiC} y={yiC} xMaj={seq(0.32, 0.4, 0.02)} xMin={seq(0.31, 0.39, 0.02)} xLab={seq(0.32, 0.4, 0.02)} yMaj={seq(28, 34, 2)} yMin={seq(29, 33, 2)} yLab={seq(28, 34, 2)} side="left" fs={10} tl={4} ml={2} pad={1} />

      {/* ---------- Row 3 left ---------- */}
      <g clipPath="url(#cl2)">
        <Models x={xL} y={y3L} ts={tRms} data={rmsNub} />
        <Models x={xL} y={y3L} ts={tRms} data={rmsNue} />
      </g>
      <Axes x={xL} y={y3L} xMaj={xMaj} xMin={xMin} yMaj={seq(15, 35, 5)} yMin={seq(13, 37, 1).filter(v => v % 5 !== 0)} yLab={seq(15, 35, 5)} side="left" fs={13} />
      <Label x={168} y={391} fs={15} parts={[[nub], ['e', 'b'], ['+2']]} />
      <Label x={168} y={423} fs={15} parts={[[nu], ['e', 'b']]} />
      <Label x={21} y={380} fs={13} rot anchor="middle" parts={[['\u03b5'], ['rms', 'b'], [' [MeV]@r'], ['g', 'b'], [',com']]} />

      {/* ---------- Row 3 right ---------- */}
      <g clipPath="url(#cr2)">
        <Models x={xR} y={y3R} ts={tT} data={tempNS} />
      </g>
      <Axes x={xR} y={y3R} xMaj={xMaj} xMin={xMin} yMaj={seq(4.5, 7, 0.5)} yMin={seq(4.1, 7.0, 0.1).filter(v => Math.abs(v * 2 - Math.round(v * 2)) > 0.01)} yLab={seq(4.5, 7, 0.5)} side="right" fs={13} />
      <Label x={822} y={380} fs={13} rot anchor="middle" parts={[['T'], ['NS', 'b'], [' [MeV]']]} />

      {/* ---------- Row 4 left ---------- */}
      <g clipPath="url(#cl3)">
        <Models x={xL} y={y4L} ts={tQ} data={qHeat} />
      </g>
      <Axes x={xL} y={y4L} xMaj={xMaj} xMin={xMin} yMaj={seq(0, 12, 2)} yMin={seq(1, 13, 2)} yLab={seq(0, 12, 2)} side="left" fs={13} />
      <Label x={20} y={529} fs={13} rot anchor="middle" parts={[['Q'], ['heat', 'b'], [' [10'], ['51', 'p'], [' erg/cm'], ['3', 'p'], ['/s]']]} />

      {/* ---------- Row 4 right ---------- */}
      <g clipPath="url(#cr3)">
        <Models x={xR} y={y4R} ts={tGain} data={logMg} />
      </g>
      <Axes x={xR} y={y4R} xMaj={xMaj} xMin={xMin} yMaj={seq(-4, -2, 0.5)} yMin={seq(-4, -2, 0.1).filter(v => Math.abs(v * 2 - Math.round(v * 2)) > 0.01)} yLab={seq(-4, -2, 0.5)} side="right" fs={13} />
      <Label x={823} y={529} fs={13} rot anchor="middle" parts={[['log M'], ['g', 'b'], [' [M'], ['\u2299', 'b'], [']']]} />

      {/* ---------- Row 5 left ---------- */}
      <g clipPath="url(#cl4)">
        <Models x={xL} y={y5L} ts={tQM} data={qPerMass} />
      </g>
      <Axes x={xL} y={y5L} xMaj={xMaj} xMin={xMin} yMaj={seq(0, 8, 2)} yMin={seq(1, 7, 2)} yLab={seq(0, 8, 2)} side="left" fs={13} />
      <Label x={26} y={679} fs={13} rot anchor="middle" parts={[['Q'], ['heat', 'b'], ['/M'], ['g', 'b'], [' [10'], ['21', 'p'], [' erg/s/g]']]} />

      {/* ---------- Row 5 right ---------- */}
      <g clipPath="url(#cr4)">
        <Models x={xR} y={y5R} ts={tEff} data={etaHeat} />
      </g>
      <Axes x={xR} y={y5R} xMaj={xMaj} xMin={xMin} yMaj={seq(0, 8, 2)} yMin={seq(1, 7, 2)} yLab={seq(0, 8, 2)} side="right" fs={13} />
      <Label x={818} y={679} fs={13} rot anchor="middle" parts={[['\u03b7'], ['heat', 'b'], [' [%]']]} />
      {MODEL_NAMES.map((m, i) => (
        <g key={m}>
          <line x1={605} x2={632} y1={632 + 14 * i} y2={632 + 14 * i} stroke={MODEL_COLORS[i]} strokeWidth={1.8} />
          <text x={641} y={632 + 14 * i + 4.5} fontSize={12.5} fontFamily={FONT}>{m}</text>
        </g>
      ))}

      {/* ---------- Row 6 left ---------- */}
      <g clipPath="url(#cl5)">
        <Models x={xL} y={y6L} ts={tRatio} data={tauRatio} />
      </g>
      <Axes x={xL} y={y6L} xMaj={xMaj} xMin={xMin} xLab={xMaj} yMaj={seq(0, 0.5, 0.1)} yMin={seq(0.02, 0.48, 0.02).filter(v => Math.abs(v * 10 - Math.round(v * 10)) > 0.01)} yLab={seq(0, 0.5, 0.1)} side="left" fs={13} />
      <Label x={16} y={828} fs={13} rot anchor="middle" parts={[['\u03c4'], ['adv', 'b'], ['/\u03c4'], ['heat', 'b']]} />
      <Label x={228} y={926} fs={13} anchor="middle" parts={[['t'], ['pb', 'b'], [' [s]']]} />

      {/* ---------- Row 6 right ---------- */}
      <g clipPath="url(#cr5)">
        <Models x={xR} y={y6R} ts={tAdvT} data={tauAdv} dash="9,6" />
        <Models x={xR} y={y6R} ts={tHeatT} data={tauHeat} />
      </g>
      <Axes x={xR} y={y6R} xMaj={xMaj} xMin={xMin} xLab={xMaj} yMaj={[1, 10]} yMin={[0.4, 0.5, 0.6, 0.7, 0.8, 0.9, 2, 3, 4, 5, 6, 7, 8, 9, 20, 30, 40, 50, 60, 70, 80]} yLab={[1, 10]} side="right" fs={13} />
      <Label x={821} y={822} fs={13} rot anchor="middle" parts={[['\u03c4'], ['heat', 'b'], [' , \u03c4'], ['adv', 'b'], [' [ms]']]} />
      <Label x={603} y={926} fs={13} anchor="middle" parts={[['t'], ['pb', 'b'], [' [s]']]} />
      <line x1={642} x2={673} y1={779.5} y2={779.5} stroke="#000" strokeWidth={1.8} />
      <line x1={642} x2={673} y1={796.5} y2={796.5} stroke="#000" strokeWidth={1.8} strokeDasharray="10,6" />
      <Label x={682} y={783.5} fs={12} parts={[['\u03c4'], ['heat', 'b']]} />
      <Label x={682} y={800.5} fs={12} parts={[['\u03c4'], ['adv', 'b']]} />
    </svg>
  );
}
